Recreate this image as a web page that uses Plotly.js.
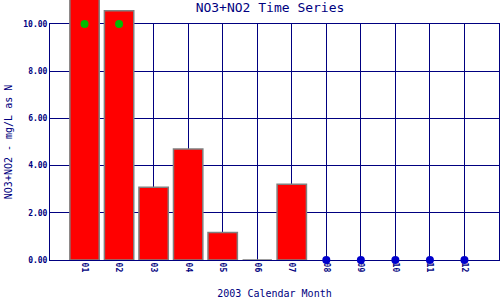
<!DOCTYPE html>
<html>
<head>
<meta charset="utf-8">
<script src="https://cdn.plot.ly/plotly-3.0.1.min.js"></script>
<style>html,body{margin:0;padding:0;background:#fff;}#chart{width:500px;height:300px;}</style>
</head>
<body>
<div id="chart"></div>
<script>
const months = ['01','02','03','04','05','06','07','08','09','10','11','12'];
const barMonths = ['01','02','03','04','05','06','07'];
const barValues = [11.3, 10.56, 3.08, 4.70, 1.17, 0, 3.21];
const greenMonths = ['01','02'];
const greenValues = [10.0, 10.0];
const blueMonths = ['08','09','10','11','12'];
const blueValues = [0, 0, 0, 0, 0];
const yTicks = [0, 2, 4, 6, 8, 10];

const navy = '#000080';
const mono = 'DejaVu Sans Mono, monospace';
// grid axis occupies the lower part; data axis spans the whole height with the same scale
const gridTop = 10;
const plotPx = 260, gridPx = 236;
const dataTop = gridTop * plotPx / gridPx;

const traces = [
  {type:'bar', x:barMonths, y:barValues, xaxis:'x2', yaxis:'y2', width:0.85, cliponaxis:false,
   marker:{color:'#ff0000', line:{color:'#808080', width:1.5}}, hoverinfo:'none'},
  {type:'scatter', mode:'markers', x:greenMonths, y:greenValues, xaxis:'x2', yaxis:'y2', cliponaxis:false,
   marker:{color:'#00bb00', size:8}, hoverinfo:'none'},
  {type:'scatter', mode:'markers', x:blueMonths, y:blueValues, xaxis:'x2', yaxis:'y2', cliponaxis:false,
   marker:{color:'#0000cc', size:8}, hoverinfo:'none'},
  {type:'scatter', mode:'markers', x:months, y:months.map(()=>null), xaxis:'x', yaxis:'y', hoverinfo:'none', showlegend:false}
];

const layout = {
  width:500, height:300,
  margin:{l:50, r:1, t:0, b:40},
  paper_bgcolor:'#fff', plot_bgcolor:'rgba(0,0,0,0)',
  showlegend:false,
  title:{text:'NO3+NO2 Time Series', x:0.54, xanchor:'center', y:0.99, yanchor:'top',
         font:{family:mono, size:13, color:navy}},
  xaxis:{type:'category', categoryorder:'array', categoryarray:months, anchor:'y',
         range:[-1, 12], tickvals:months, ticktext:months, tickangle:90,
         showgrid:true, gridcolor:navy, gridwidth:1,
         showline:true, mirror:true, linecolor:navy, linewidth:1, ticks:'', zeroline:false,
         tickfont:{family:mono, size:8, color:navy, weight:'bold'},
         title:{text:'2003 Calendar Month', standoff:18, font:{family:mono, size:10, color:navy}}},
  yaxis:{range:[0, gridTop], domain:[0, gridPx/plotPx], anchor:'x', tickvals:yTicks, tickformat:'.2f',
         showgrid:true, gridcolor:navy, gridwidth:1,
         showline:true, mirror:true, linecolor:navy, linewidth:1, ticks:'', zeroline:false,
         tickfont:{family:mono, size:8, color:navy, weight:'bold'},
         title:{text:'NO3+NO2 - mg/L as N', standoff:8, font:{family:mono, size:10, color:navy}}},
  xaxis2:{type:'category', categoryorder:'array', categoryarray:months, anchor:'y2',
          range:[-1, 12], visible:false, showgrid:false, zeroline:false},
  yaxis2:{range:[0, dataTop], domain:[0, 1], anchor:'x2', visible:false, showgrid:false, zeroline:false}
};

Plotly.newPlot('chart', traces, layout, {staticPlot:true, displayModeBar:false});
</script>
</body>
</html>
